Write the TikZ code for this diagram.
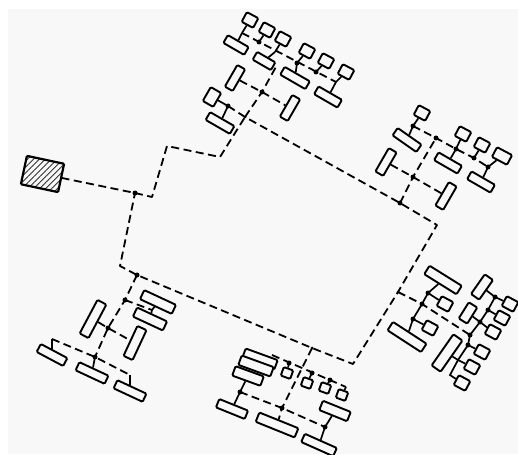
\documentclass[tikz,border=0pt]{standalone}
\usetikzlibrary{patterns.meta}
\definecolor{paper}{HTML}{F8F8F8}
\tikzset{
  x=1pt,y=-1pt,
  bx/.style n args={3}{draw=black,line width=1.9pt,rounded corners=1.2pt,fill=paper,inner sep=0pt,minimum width=#1,minimum height=#2,rotate=#3},
  rr/.style 2 args={bx={#1}{#2}{-30}},
  sq/.style={bx={13pt}{11pt}{-28}},
  up/.style 2 args={bx={#1}{#2}{60}},
  dsh/.style={draw=black,line width=1.8pt,dash pattern=on 8pt off 4.5pt,line join=round},
  stub/.style={draw=black,line width=1.7pt},
  jn/.style={circle,fill=black,inner sep=0pt,minimum size=5pt},
}
\begin{document}
\begin{tikzpicture}
\useasboundingbox (0,0) rectangle (518,454);
\fill[white] (0,0) rectangle (518,454);
\fill[paper] (8,9) rectangle (518,454);

% source
\node[draw=black,line width=2.2pt,rounded corners=1pt,inner sep=0pt,minimum width=38pt,minimum height=29pt,rotate=-12,
  pattern={Lines[angle=45,distance=4.2pt,line width=.9pt]},pattern color=black!80] (src) at (42.5,174) {};

% trunk
\coordinate (t1) at (135,193);
\coordinate (t2) at (152,197);
\coordinate (t3) at (167,146);
\coordinate (t4) at (220,157);
\coordinate (ta) at (245,117);
\coordinate (tb) at (228,106);
\coordinate (rc) at (437,225);
\coordinate (bc) at (353,364);
\coordinate (lc) at (120,266);
\coordinate (tr) at (400,203);
\coordinate (rj) at (398,292);
\coordinate (bj) at (312,348);
\coordinate (lj) at (137,275);
\draw[dsh] (src) -- (t1) -- (t2) -- (t3) -- (t4) -- (ta);
\draw[dsh] (tb) -- (ta) -- (tr) -- (rc) -- (rj) -- (bc) -- (bj) -- (lj) -- (lc) -- (t1);
\node[jn] at (t1) {};
\node[jn] at (tr) {};
\node[jn,minimum size=3pt] at (rj) {};
\node[jn,minimum size=3pt] at (bj) {};
\node[jn] at (lj) {};

% ---- top group
\node[sq] (a1) at (250,20) {};
\node[sq] (a2) at (267,30) {};
\node[sq] (a3) at (283,39) {};
\node[sq] (a4) at (307,51) {};
\node[sq] (a5) at (326,61) {};
\node[sq] (a6) at (346,72) {};
\node[rr={24pt}{9pt}] (b1) at (236,45) {};
\node[rr={21pt}{9pt}] (b3) at (264,61) {};
\node[rr={29pt}{9pt}] (b4) at (295,78) {};
\node[rr={27pt}{9pt}] (b6) at (328,97) {};
\node[up={25pt}{9pt}] (c1) at (235,78) {};
\node[up={25pt}{9pt}] (c2) at (290,108) {};
\node[bx={16pt}{12pt}{60}] (c3) at (212,97) {};
\node[rr={28pt}{9pt}] (c4) at (220,123) {};
\coordinate (a1j) at (242,33);
\coordinate (a2j) at (259,42);
\coordinate (a3j) at (275,52);
\coordinate (a4j) at (297,63);
\coordinate (a5j) at (316,72);
\coordinate (a6j) at (336,82);
\coordinate (ae) at (277,65);
\coordinate (aj) at (262,92);
\draw[dsh] (a1j) -- (a6j);
\draw[dsh] (ta) -- (aj) -- (ae);
\draw[dsh] (c1) -- (aj) -- (c2);
\foreach \s/\j in {a1/a1j,a2/a2j,a3/a3j,a4/a4j,a5/a5j,a6/a6j} \draw[stub] (\s) -- (\j);
\draw[stub] (a1j) -- (b1);
\draw[stub] (a3j) -- (b3);
\draw[stub] (a4j) -- (b4);
\draw[stub] (a6j) -- (b6);
\draw[stub] (c3) -- (tb) -- (c4);
\foreach \j in {a2j,a4j,a5j,aj,tb} \node[jn] at (\j) {};
\node[jn,minimum size=3pt] at (ta) {};

% ---- right-top group
\node[sq] (d1) at (422,113) {};
\node[sq] (d2) at (463,134) {};
\node[sq] (d3) at (482,145) {};
\node[bx={17pt}{11pt}{-28}] (d4) at (502,156) {};
\node[bx={29pt}{9pt}{-35}] (e1) at (407,140) {};
\node[rr={27pt}{9pt}] (e2) at (448,163) {};
\node[rr={27pt}{9pt}] (e3) at (481,182) {};
\node[up={27pt}{9pt}] (f1) at (386,162) {};
\node[up={27pt}{9pt}] (f2) at (446,196) {};
\coordinate (d1j) at (413,126);
\coordinate (dv) at (436,138);
\coordinate (d2j) at (456,149);
\coordinate (d3j) at (474,158);
\coordinate (d4j) at (488,167);
\coordinate (fj) at (413,177);
\draw[dsh] (d1j) -- (dv) -- (d2j) -- (d3j) -- (d4j);
\draw[dsh] (tr) -- (fj) -- (dv);
\draw[dsh] (f1) -- (fj) -- (f2);
\draw[stub] (d1) -- (d1j) -- (e1);
\draw[stub] (d2) -- (d2j) -- (e2);
\draw[stub] (d3) -- (d3j);
\draw[stub] (d4) -- (d4j) -- (e3);
\foreach \j in {d1j,dv,d2j,d3j,d4j,fj} \node[jn] at (\j) {};

% ---- right group
\node[bx={38pt}{10pt}{-32}] (g1) at (443,280) {};
\node[bx={40pt}{10pt}{-33}] (g2) at (407,337) {};
\node[sq] (g3) at (445,304) {};
\node[sq] (g4) at (430,328) {};
\node[bx={24pt}{10pt}{55}] (h1) at (482,287) {};
\node[bx={19pt}{10pt}{58}] (h2) at (468,313) {};
\node[sq] (h3) at (510,304) {};
\node[sq] (h4) at (502,318) {};
\node[sq] (h5) at (493,332) {};
\node[sq] (h6) at (482,352) {};
\node[sq] (h7) at (472,367) {};
\node[sq] (h8) at (462,383) {};
\node[bx={38pt}{11pt}{55}] (h9) at (447,353) {};
\coordinate (gm) at (422,304);
\coordinate (gu) at (428,293);
\coordinate (gd) at (413,319);
\coordinate (hm) at (470,335);
\coordinate (ha) at (480,322);
\coordinate (hb) at (488,310);
\coordinate (hc) at (495,297);
\coordinate (hd) at (468,345);
\coordinate (he) at (458,360);
\coordinate (hf) at (450,375);
\draw[dsh] (rj) -- (gm) -- (hm);
\draw[stub] (gm) -- (gu) -- (g1);
\draw[stub] (gu) -- (g3);
\draw[stub] (gm) -- (gd) -- (g2);
\draw[stub] (gd) -- (g4);
\draw[stub] (hm) -- (ha) -- (hb) -- (hc) -- (h1);
\draw[stub] (ha) -- (h5);
\draw[stub] (ha) -- (h2);
\draw[stub] (hb) -- (h4);
\draw[stub] (hc) -- (h3);
\draw[stub] (hm) -- (hd) -- (he) -- (hf) -- (h8);
\draw[stub] (hd) -- (h6);
\draw[stub] (he) -- (h7);
\draw[stub] (he) -- (h9);
\foreach \j in {gm,gu,gd,hm,ha,hb,hc,hd} \node[jn] at (\j) {};

% ---- bottom group
\node[bx={34pt}{10pt}{-20}] (k1) at (260,359) {};
\node[bx={34pt}{10pt}{-20}] (k2) at (256,366) {};
\node[bx={30pt}{10pt}{-20}] (k3) at (248,376) {};
\node[bx={31pt}{9pt}{-22}] (k4) at (232,409) {};
\node[bx={42pt}{10pt}{-22}] (k5) at (277,425) {};
\node[bx={30pt}{10pt}{-22}] (k6) at (335,411) {};
\node[bx={35pt}{9pt}{-24}] (k7) at (319,445) {};
\node[bx={10pt}{9pt}{-20}] (m1) at (287,373) {};
\node[bx={10pt}{9pt}{-20}] (m2) at (307,383) {};
\node[bx={10pt}{9pt}{-20}] (m3) at (325,388) {};
\node[bx={10pt}{9pt}{-20}] (m4) at (342,395) {};
\coordinate (ms) at (272,355);
\coordinate (m1j) at (289,363);
\coordinate (m2j) at (312,373);
\coordinate (m3j) at (330,380);
\coordinate (m4j) at (346,387);
\coordinate (kl) at (240,392);
\coordinate (km) at (282,408);
\coordinate (kr) at (325,427);
\draw[dsh] (ms) -- (m4j);
\draw[dsh] (bj) -- (km) -- (k5);
\draw[dsh] (kl) -- (km) -- (kr);
\draw[stub] (m1j) -- (m1);
\draw[stub] (m2j) -- (m2);
\draw[stub] (m3j) -- (m3);
\draw[stub] (m4j) -- (m4);
\draw[stub] (k3) -- (kl) -- (k4);
\draw[stub] (k6) -- (kr) -- (k7);
\foreach \j in {kl,km,kr,m1j,m2j,m3j} \node[jn] at (\j) {};

% ---- bottom-left group
\node[bx={35pt}{10pt}{-25}] (n1) at (158,302) {};
\node[bx={33pt}{10pt}{-25}] (n2) at (150,319) {};
\node[bx={38pt}{10pt}{62}] (n3) at (93,319) {};
\node[bx={33pt}{10pt}{65}] (n4) at (135,343) {};
\node[bx={30pt}{9pt}{-28}] (n5) at (52,355) {};
\node[bx={32pt}{9pt}{-25}] (n6) at (92,373) {};
\node[bx={32pt}{9pt}{-25}] (n7) at (130,391) {};
\coordinate (nt) at (125,300);
\coordinate (nj) at (152,310);
\coordinate (nm) at (108,328);
\coordinate (nb) at (95,357);
\coordinate (nl) at (52,339);
\coordinate (nr) at (130,375);
\draw[dsh] (lj) -- (nt) -- (nm) -- (nb);
\draw[dsh] (nt) -- (nj);
\draw[dsh] (n3) -- (nm) -- (n4);
\draw[dsh] (nl) -- (nb) -- (nr);
\draw[stub] (n1) -- (nj) -- (n2);
\draw[stub] (nl) -- (n5);
\draw[stub] (nb) -- (n6);
\draw[stub] (nr) -- (n7);
\foreach \j in {nt,nm,nb} \node[jn] at (\j) {};
\end{tikzpicture}
\end{document}
